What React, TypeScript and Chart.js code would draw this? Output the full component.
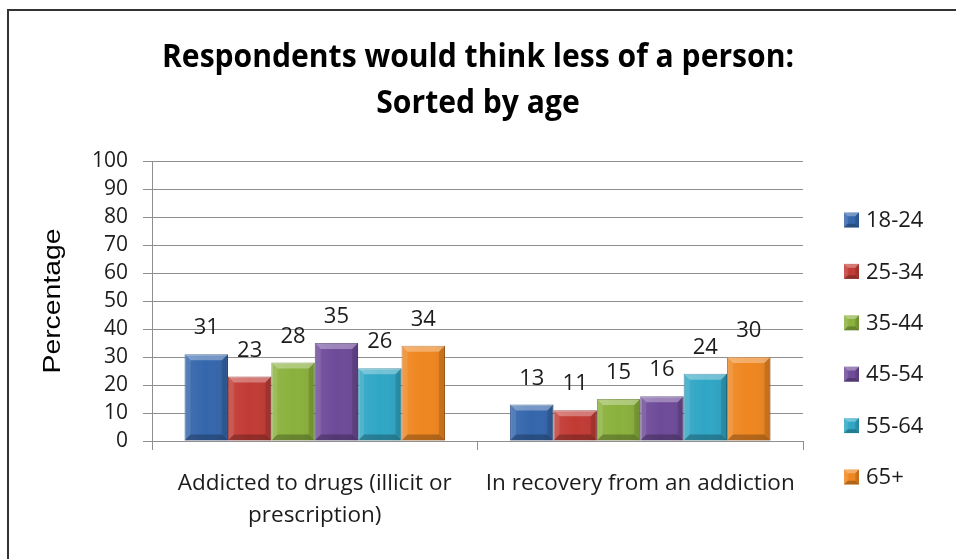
import React, { useEffect, useRef } from "react";
import { Chart, registerables } from "chart.js";

Chart.register(...registerables);

const titleLines = ["Respondents would think less of a person:", "Sorted by age"];
const yAxisTitle = "Percentage";
const categories: (string | string[])[] = [
  ["Addicted to drugs (illicit or", "prescription)"],
  "In recovery from an addiction",
];
const ageGroups = ["18-24", "25-34", "35-44", "45-54", "55-64", "65+"];
const age18to24 = [31, 13];
const age25to34 = [23, 11];
const age35to44 = [28, 15];
const age45to54 = [35, 16];
const age55to64 = [26, 24];
const age65plus = [34, 30];
const seriesValues = [age18to24, age25to34, age35to44, age45to54, age55to64, age65plus];
const yMin = 0;
const yMax = 100;
const yStep = 10;

const fillColors = ["#3466ac", "#c23a34", "#8ab13c", "#6e4a99", "#2fa6c5", "#ef861f"];
const edgeColors = ["#1f4a82", "#8c2420", "#5f8024", "#4a2f6e", "#1c7a94", "#b25e0e"];

const FONT = '"Open Sans", "Noto Sans", sans-serif';
const TEXT = "#1c1c1c";
const GRID = "#8f8f8f";

function bevel(ctx: CanvasRenderingContext2D, left: number, top: number, right: number, bottom: number, bMax: number) {
  const h = bottom - top;
  const w = right - left;
  const b = Math.max(0, Math.min(bMax, h / 3, w / 4));
  if (b <= 0) return;
  const poly = (pts: number[][], color: string) => {
    ctx.beginPath();
    ctx.moveTo(pts[0][0], pts[0][1]);
    for (let i = 1; i < pts.length; i++) ctx.lineTo(pts[i][0], pts[i][1]);
    ctx.closePath();
    ctx.fillStyle = color;
    ctx.fill();
  };
  const g = ctx.createLinearGradient(left, 0, right, 0);
  g.addColorStop(0, "rgba(255,255,255,0.08)");
  g.addColorStop(0.5, "rgba(255,255,255,0.0)");
  g.addColorStop(1, "rgba(0,0,0,0.08)");
  ctx.fillStyle = g;
  ctx.fillRect(left, top, w, h);
  poly([[left, top], [right, top], [right - b, top + b], [left + b, top + b]], "rgba(255,255,255,0.32)");
  poly([[left, top], [left + b, top + b], [left + b, bottom - b], [left, bottom]], "rgba(255,255,255,0.10)");
  poly([[right, top], [right, bottom], [right - b, bottom - b], [right - b, top + b]], "rgba(0,0,0,0.12)");
  poly([[left, bottom], [left + b, bottom - b], [right - b, bottom - b], [right, bottom]], "rgba(0,0,0,0.25)");
}

const decorPlugin = {
  id: "decor",
  beforeDraw(chart: any) {
    const ctx = chart.ctx as CanvasRenderingContext2D;
    ctx.save();
    ctx.fillStyle = "#ffffff";
    ctx.fillRect(0, 0, chart.width, chart.height);
    ctx.strokeStyle = "#333333";
    ctx.lineWidth = 2;
    ctx.strokeRect(8, 10, chart.width + 20, chart.height + 20);
    ctx.restore();
  },
  afterDatasetsDraw(chart: any) {
    const ctx = chart.ctx as CanvasRenderingContext2D;
    ctx.save();
    chart.data.datasets.forEach((ds: any, di: number) => {
      const meta = chart.getDatasetMeta(di);
      meta.data.forEach((el: any, i: number) => {
        const p = el.getProps(["x", "y", "base", "width"], true);
        const left = p.x - p.width / 2;
        const right = p.x + p.width / 2;
        bevel(ctx, left, p.y, right, p.base, 6);
        ctx.fillStyle = TEXT;
        ctx.font = `22px ${FONT}`;
        ctx.textAlign = "center";
        ctx.textBaseline = "alphabetic";
        ctx.fillText(String(ds.data[i]), p.x, p.y - 20);
      });
    });
    ctx.restore();
  },
  afterDraw(chart: any) {
    const ctx = chart.ctx as CanvasRenderingContext2D;
    const area = chart.chartArea;
    ctx.save();
    ctx.fillStyle = "#000000";
    ctx.textAlign = "center";
    ctx.textBaseline = "alphabetic";
    ctx.font = `bold 32px ${FONT}`;
    const cx = chart.width / 2;
    const w1 = ctx.measureText(titleLines[0]).width;
    const r = Math.min(1, 632 / w1);
    ctx.fillText(titleLines[0], cx, 67, w1 * r);
    const w2 = ctx.measureText(titleLines[1]).width;
    ctx.fillText(titleLines[1], cx, 113, w2 * r);

    ctx.save();
    ctx.translate(54, (area.top + area.bottom) / 2);
    ctx.rotate(-Math.PI / 2);
    ctx.font = '23px "Liberation Sans", Arial, sans-serif';
    const wp = ctx.measureText(yAxisTitle).width;
    ctx.scale(145 / wp, 1);
    ctx.textBaseline = "middle";
    ctx.fillStyle = "#000000";
    ctx.fillText(yAxisTitle, 0, 0);
    ctx.restore();

    const lx = 844;
    const ly0 = 220;
    const step = 51.4;
    chart.data.datasets.forEach((ds: any, i: number) => {
      const cy = ly0 + i * step;
      ctx.fillStyle = ds.backgroundColor;
      ctx.fillRect(lx, cy - 7.5, 15, 15);
      bevel(ctx, lx, cy - 7.5, lx + 15, cy + 7.5, 4);
      ctx.fillStyle = TEXT;
      ctx.font = `22px ${FONT}`;
      ctx.textAlign = "left";
      ctx.textBaseline = "middle";
      ctx.fillText(ds.label, lx + 22, cy + 1);
    });
    ctx.restore();
  },
};

export default function App() {
  const canvasRef = useRef<HTMLCanvasElement | null>(null);

  useEffect(() => {
    document.body.style.margin = "0";
    const canvas = canvasRef.current;
    if (!canvas) return;
    const chart = new Chart(canvas, {
      type: "bar",
      data: {
        labels: categories,
        datasets: ageGroups.map((label, i) => ({
          label,
          data: seriesValues[i],
          backgroundColor: fillColors[i],
          borderColor: edgeColors[i],
          borderWidth: 1,
          categoryPercentage: 0.8,
          barPercentage: 1.0,
        })),
      },
      options: {
        responsive: false,
        animation: false,
        devicePixelRatio: 1,
        layout: { padding: { left: 0, right: 153, top: 161, bottom: 0 } },
        plugins: {
          legend: { display: false },
          title: { display: false },
          tooltip: { enabled: false },
        },
        scales: {
          x: {
            grid: {
              display: true,
              drawOnChartArea: false,
              drawTicks: true,
              tickLength: 9,
              color: GRID,
              offset: true,
            },
            border: { display: true, color: GRID, width: 1 },
            ticks: {
              color: TEXT,
              font: { family: FONT, size: 22.5, lineHeight: 1.45 },
              padding: 17,
              maxRotation: 0,
              autoSkip: false,
            },
            afterFit: (scale: any) => {
              scale.height = 118;
            },
          },
          y: {
            min: yMin,
            max: yMax,
            ticks: {
              stepSize: yStep,
              autoSkip: false,
              color: TEXT,
              font: { family: FONT, size: 21, lineHeight: 1.0 },
              padding: 15,
            },
            grid: {
              color: GRID,
              tickLength: 9,
              drawTicks: true,
            },
            border: { display: true, color: GRID, width: 1 },
            afterFit: (scale: any) => {
              scale.width = 152;
            },
          },
        },
      },
      plugins: [decorPlugin],
    });
    return () => chart.destroy();
  }, []);

  return (
    <div style={{ position: "fixed", left: 0, top: 0, width: 956, height: 559, overflow: "hidden", background: "#fff" }}>
      <canvas ref={canvasRef} width={956} height={559} style={{ display: "block", width: 956, height: 559 }} />
    </div>
  );
}
